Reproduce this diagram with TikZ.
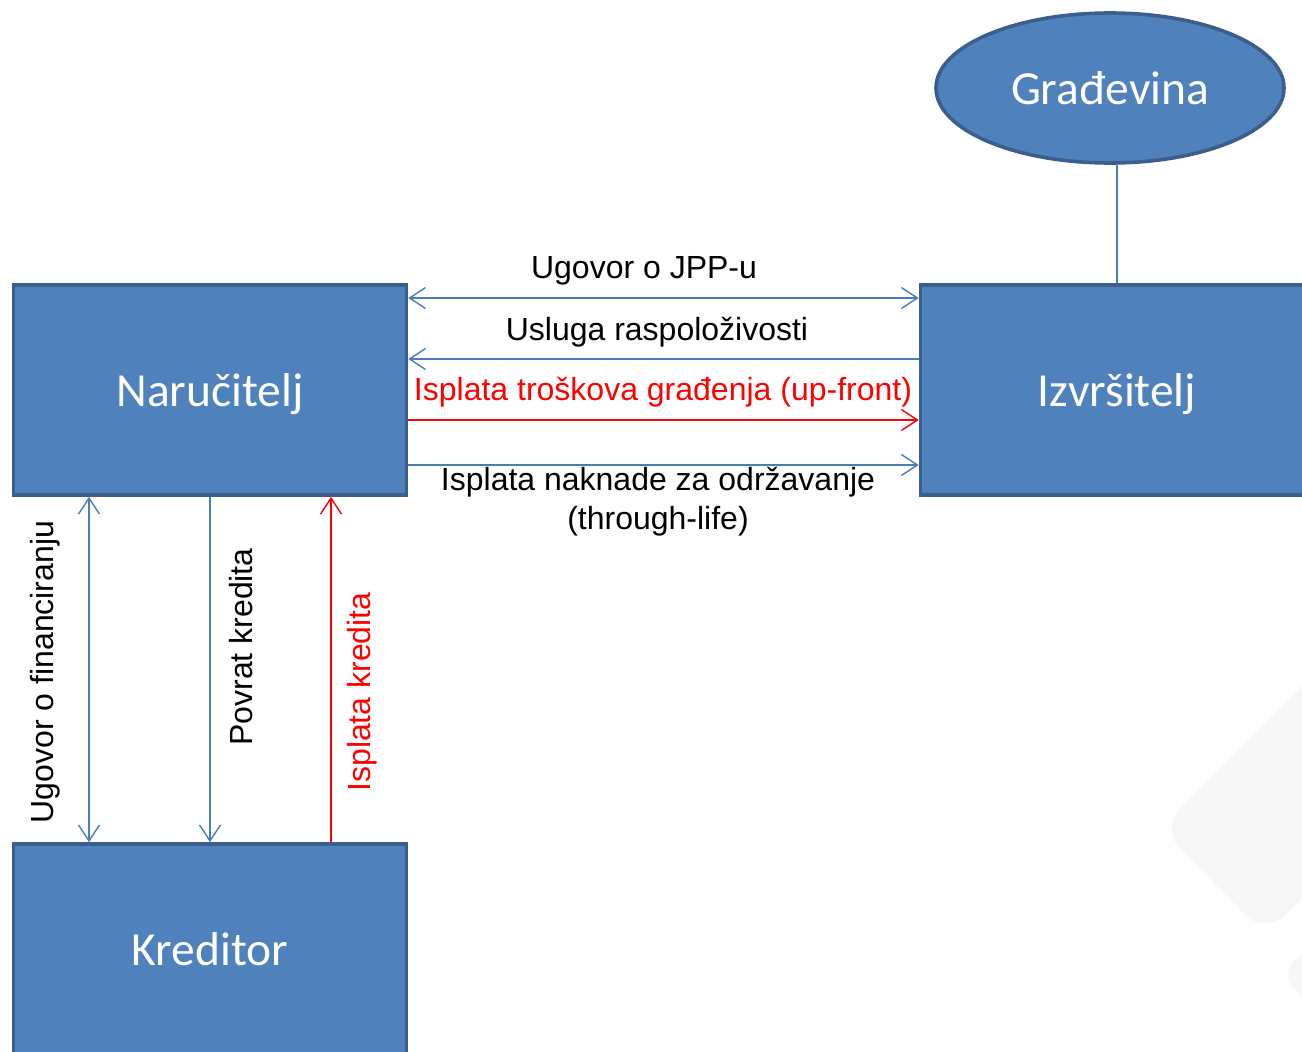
\documentclass[tikz,border=0pt]{standalone}
\usepackage{fontspec}
\setmainfont{Liberation Sans}
\newfontfamily\boxfont{Carlito}
\usetikzlibrary{arrows.meta,shapes.geometric,calc}
\definecolor{boxfill}{HTML}{4F81BD}
\definecolor{boxline}{HTML}{3A5F8D}
\definecolor{connblue}{HTML}{4A7EBB}
\definecolor{wm}{HTML}{F6F6F6}
\tikzset{
  box/.style={draw=boxline, fill=boxfill, line width=3.6pt, rectangle, minimum width=393pt, minimum height=210pt, inner sep=0pt, text=white, text height=32pt, text depth=0pt, font=\boxfont\fontsize{47.5}{56}\selectfont},
  ell/.style={draw=boxline, fill=boxfill, line width=3.6pt, ellipse, minimum width=348pt, minimum height=150pt, inner sep=0pt, text=white, text height=32pt, text depth=0pt, font=\boxfont\fontsize{47.5}{56}\selectfont},
  conn/.style={draw=connblue, line width=1.4pt},
  redconn/.style={draw=red, line width=1.4pt},
  tip/.tip={Straight Barb[length=16pt,width=21pt]},
  lbl/.style={inner sep=0pt, font=\fontsize{32}{39}\selectfont, align=center},
}
\begin{document}
\begin{tikzpicture}[x=1pt,y=-1pt]
\useasboundingbox (0,0) rectangle (1302,1052);
\clip (0,0) rectangle (1302,1052);
% faint watermark
\fill[wm, rounded corners=28pt] (1160,828) -- (1265,935) -- (1445,755) -- (1340,648) -- cycle;
\fill[wm, rounded corners=20pt] (1280,975) -- (1380,1075) -- (1480,975) -- (1380,875) -- cycle;
% nodes
\node[box] (nar) at (210,390) {Naručitelj};
\node[box] (izv) at (1117,390) {Izvršitelj};
\node[box] (kred) at (210,949) {Kreditor};
\node[ell] (grad) at (1110,88) {Građevina};
% connectors
\draw[conn] (grad.south -| izv.north) -- (izv.north);
\draw[conn,{tip}-{tip}] (nar.east |- 0,298) -- (izv.west |- 0,298);
\draw[conn,-{tip}] (izv.west |- 0,359) -- (nar.east |- 0,359);
\draw[redconn,-{tip}] (nar.east |- 0,420) -- (izv.west |- 0,420);
\draw[conn,-{tip}] (nar.east |- 0,465) -- (izv.west |- 0,465);
\draw[conn,{tip}-{tip}] (nar.south -| 89,0) -- (kred.north -| 89,0);
\draw[conn,-{tip}] (nar.south -| 210,0) -- (kred.north -| 210,0);
\draw[redconn,-{tip}] (kred.north -| 331,0) -- (nar.south -| 331,0);
% labels
\node[lbl] (l1) at (644,271) {Ugovor o JPP-u};
\node[lbl] (l2) at (657,332) {Usluga raspoloživosti};
\node[lbl,text=red] (l3) at (663,392) {Isplata troškova građenja (up-front)};
\node[lbl] (l4) at (658,502) {Isplata naknade za održavanje\\(through-life)};
\node[lbl,rotate=90] (l5) at (45,672) {Ugovor o financiranju};
\node[lbl,rotate=90] (l6) at (241,647) {Povrat kredita};
\node[lbl,rotate=90,text=red] (l7) at (362,692) {Isplata kredita};
\end{tikzpicture}
\end{document}
